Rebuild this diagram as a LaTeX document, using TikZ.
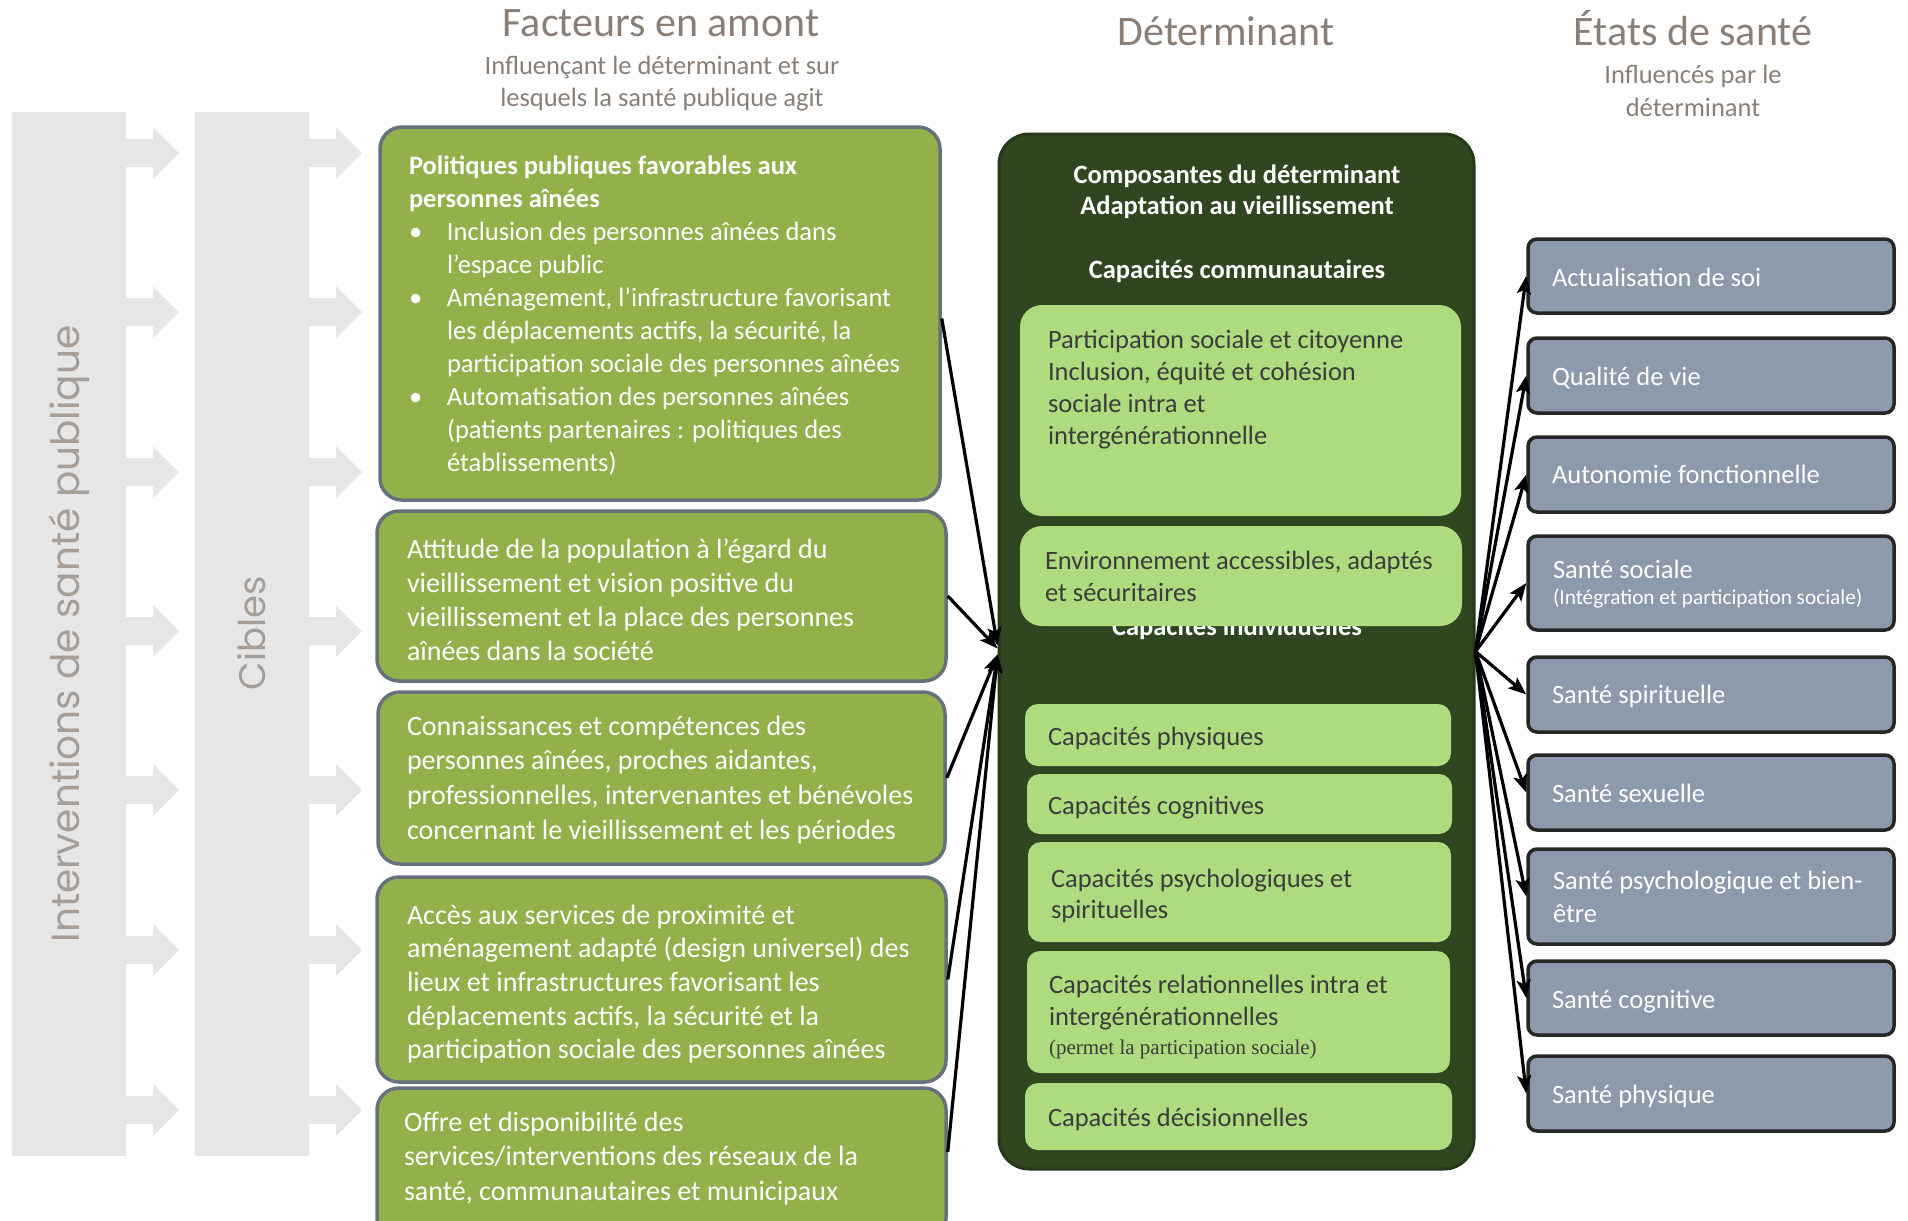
\documentclass[tikz,border=0pt]{standalone}
\usepackage{fontspec}
\setmainfont{Carlito}
\newfontfamily\colfont{Poppins}
\newfontfamily\serifsmall{Liberation Serif}
\usetikzlibrary{arrows.meta,fit}

\definecolor{factfill}{HTML}{93B14B}
\definecolor{factline}{HTML}{66717E}
\definecolor{detfill}{HTML}{2F4621}
\definecolor{detline}{HTML}{25391A}
\definecolor{compfill}{HTML}{ADDB7E}
\definecolor{statefill}{HTML}{8D9AAB}
\definecolor{stateline}{HTML}{262626}
\definecolor{headcol}{HTML}{8A7F77}
\definecolor{colfill}{HTML}{E6E6E6}
\definecolor{coltext}{HTML}{A69E97}
\definecolor{comptext}{HTML}{3C3C3C}

\newcommand\bodysize{\fontsize{26.5bp}{33bp}\selectfont}
\newcommand\factsize{\fontsize{28bp}{34bp}\selectfont}
\newcommand\titlesize{\fontsize{42bp}{50bp}\selectfont}
% left-aligned block of lines, baseline of the block = first line
\newcommand\textlines[2]{\vtop{\baselineskip=#1bp\relax\lineskiplimit=-1000bp%
  \def\\{\unskip\egroup\hbox\bgroup\ignorespaces}\hbox\bgroup\ignorespaces#2\unskip\egroup}}
% centred block of lines
\newcommand\ctextlines[2]{\vtop{\baselineskip=#1bp\relax\lineskiplimit=-1000bp%
  \def\\{\cr}\halign{\hfil\ignorespaces##\unskip\hfil\cr#2\cr}}}
\newcommand\bul{\makebox[38bp][l]{\textbullet}}
\newcommand\ind{\hspace*{38bp}}

\tikzset{
  txt/.style={inner sep=0pt, outer sep=0pt, anchor=base west, font=\bodysize},
  facttxt/.style={txt, text=white, font=\factsize},
  ctxt/.style={inner sep=0pt, outer sep=0pt, anchor=base, font=\bodysize},
  headtxt/.style={ctxt, text=headcol},
  factbox/.style={draw=factline, fill=factfill, line width=3.5bp, rounded corners=22bp, inner sep=0pt},
  detbox/.style={draw=detline, fill=detfill, line width=3bp, rounded corners=30bp, inner sep=0pt},
  compbig/.style={fill=compfill, rounded corners=22bp, inner sep=0pt},
  compsmall/.style={fill=compfill, rounded corners=13bp, inner sep=0pt},
  statebox/.style={draw=stateline, fill=statefill, line width=3.5bp, rounded corners=9bp, inner sep=0pt},
  colbar/.style={fill=colfill, inner sep=0pt},
  link/.style={line width=3.2bp, -{Stealth[length=18bp,width=14bp,inset=4bp]}},
}

\begin{document}
\begin{tikzpicture}[x=1bp,y=-1bp]
\useasboundingbox (0,0) rectangle (1908,1220);
\clip (0,0) rectangle (1908,1220);
\fill[white] (0,0) rectangle (1908,1220);

% ---- column headings
\node[headtxt, font=\titlesize] (h1) at (661,36) {Facteurs en amont};
\node[headtxt] (h1s) at (662,74) {\ctextlines{32}{Influençant le déterminant et sur\\lesquels la santé publique agit}};
\node[headtxt, font=\titlesize] (h2) at (1226,45) {Déterminant};
\node[headtxt, font=\titlesize] (h3) at (1693,45) {États de santé};
\node[headtxt] (h3s) at (1693,83) {\ctextlines{33}{Influencés par le\\déterminant}};

% ---- grey side bars with their arrows
\node[colbar, fit={(12,112) (126,1156)}] (interv) {};
\node[colbar, fit={(195,112) (309,1156)}] (cibles) {};
\foreach \ya in {153,312,472,631,790,950,1110} {
  \foreach \xa in {125,308} {
    \fill[colfill] (\xa,\ya-14) -- (\xa+28,\ya-14) -- (\xa+28,\ya-26) -- (\xa+54,\ya)
      -- (\xa+28,\ya+26) -- (\xa+28,\ya+14) -- (\xa,\ya+14) -- cycle;
  }
}
\node[rotate=90, inner sep=0pt, text=coltext] (intervlabel) at (69,634)
  {\resizebox{617bp}{!}{\colfont Interventions de santé publique}};
\node[rotate=90, inner sep=0pt, text=coltext] (cibleslabel) at (252,633)
  {\resizebox{114bp}{!}{\colfont Cibles}};

% ---- upstream factors
\node[factbox, fit={(380,127) (940,500)}] (f1) {};
\node[factbox, fit={(377,511) (946,681)}] (f2) {};
\node[factbox, fit={(378,692) (945,864)}] (f3) {};
\node[factbox, fit={(377,877) (946,1082)}] (f4) {};
\node[factbox, fit={(377,1088) (946,1240)}] (f5) {};

\node[txt, text=white] (f1t) at (409,174) {\textlines{33}{%
  \bfseries Politiques publiques favorables aux\\
  \bfseries personnes aînées\\
  \bul Inclusion des personnes aînées dans\\
  \ind l’espace public\\
  \bul Aménagement, l’infrastructure favorisant\\
  \ind les déplacements actifs, la sécurité, la\\
  \ind participation sociale des personnes aînées\\
  \bul Automatisation des personnes aînées\\
  \ind (patients partenaires~: politiques des\\
  \ind établissements)}};
\node[facttxt] (f2t) at (407,558) {\textlines{34.3}{%
  Attitude de la population à l’égard du\\
  vieillissement et vision positive du\\
  vieillissement et la place des personnes\\
  aînées dans la société}};
\node[facttxt] (f3t) at (407,735) {\textlines{34.7}{%
  Connaissances et compétences des\\
  personnes aînées, proches aidantes,\\
  professionnelles, intervenantes et bénévoles\\
  concernant le vieillissement et les périodes}};
\begin{scope}
  \clip (377,877) rectangle (946,1062);
  \node[facttxt] (f4t) at (407,924) {\textlines{33.7}{%
    Accès aux services de proximité et\\
    aménagement adapté (design universel) des\\
    lieux et infrastructures favorisant les\\
    déplacements actifs, la sécurité et la\\
    participation sociale des personnes aînées}};
\end{scope}
\node[facttxt] (f5t) at (404,1131) {\textlines{34.5}{%
  Offre et disponibilité des\\
  services/interventions des réseaux de la\\
  santé, communautaires et municipaux}};

% ---- determinant
\node[detbox, fit={(999,134) (1474,1169)}] (det) {};
\node[ctxt, text=white, font=\bodysize\bfseries] (dett) at (1237,183)
  {\ctextlines{31}{Composantes du déterminant\\Adaptation au vieillissement}};
\node[ctxt, text=white, font=\bodysize\bfseries] (commt) at (1237,278) {Capacités communautaires};
\node[ctxt, text=white, font=\bodysize\bfseries] (indivt) at (1237,635) {Capacités individuelles};

\node[compbig, fit={(1020,305) (1461,516)}] (c1) {};
\node[compbig, fit={(1020,526) (1462,626)}] (c2) {};
\node[compsmall, fit={(1025,704) (1451,766)}] (c3) {};
\node[compsmall, fit={(1027,774) (1452,834)}] (c4) {};
\node[compsmall, fit={(1028,842) (1451,942)}] (c5) {};
\node[compsmall, fit={(1027,951) (1450,1073)}] (c6) {};
\node[compsmall, fit={(1025,1083) (1452,1150)}] (c7) {};

\node[txt, text=comptext] (c1t) at (1048,348) {\textlines{32.3}{%
  Participation sociale et citoyenne\\
  Inclusion, équité et cohésion\\
  sociale intra et\\
  intergénérationnelle}};
\node[txt, text=comptext] (c2t) at (1045,569) {\textlines{32}{%
  Environnement accessibles, adaptés\\
  et sécuritaires}};
\node[txt, text=comptext] (c3t) at (1048,745) {Capacités physiques};
\node[txt, text=comptext] (c4t) at (1048,814) {Capacités cognitives};
\node[txt, text=comptext] (c5t) at (1051,887) {\textlines{31}{%
  Capacités psychologiques et\\
  spirituelles}};
\node[txt, text=comptext] (c6t) at (1049,993) {\textlines{32}{%
  Capacités relationnelles intra et\\
  intergénérationnelles}};
\node[txt, text=comptext, font=\serifsmall\fontsize{21bp}{24bp}\selectfont] (c6s) at (1049,1054)
  {(permet la participation sociale)};
\node[txt, text=comptext] (c7t) at (1048,1126) {Capacités décisionnelles};

% ---- health states
\node[statebox, fit={(1528,239) (1894,313)}] (s1) {};
\node[statebox, fit={(1528,338) (1894,413)}] (s2) {};
\node[statebox, fit={(1528,437) (1894,512)}] (s3) {};
\node[statebox, fit={(1528,536) (1894,630)}] (s4) {};
\node[statebox, fit={(1528,657) (1894,732)}] (s5) {};
\node[statebox, fit={(1528,755) (1894,830)}] (s6) {};
\node[statebox, fit={(1528,849) (1894,944)}] (s7) {};
\node[statebox, fit={(1528,961) (1894,1035)}] (s8) {};
\node[statebox, fit={(1528,1056) (1894,1131)}] (s9) {};

\node[txt, text=white] (s1t) at (1552,286) {Actualisation de soi};
\node[txt, text=white] (s2t) at (1552,385) {Qualité de vie};
\node[txt, text=white] (s3t) at (1552,483) {Autonomie fonctionnelle};
\node[txt, text=white] (s4t) at (1553,578) {Santé sociale};
\node[txt, text=white, font=\fontsize{21.3bp}{24bp}\selectfont] (s4s) at (1553,604)
  {(Intégration et participation sociale)};
\node[txt, text=white] (s5t) at (1552,703) {Santé spirituelle};
\node[txt, text=white] (s6t) at (1552,802) {Santé sexuelle};
\node[txt, text=white] (s7t) at (1553,889) {\textlines{33}{Santé psychologique et bien-\\être}};
\node[txt, text=white] (s8t) at (1552,1008) {Santé cognitive};
\node[txt, text=white] (s9t) at (1552,1103) {Santé physique};

% ---- influence arrows
\draw[link] ([yshift=-5bp]f1.east) -- ([yshift=6bp]det.west);
\draw[link] (f2.east) -- ([yshift=3bp]det.west);
\draw[link] (f3.east) -- ([yshift=-3bp]det.west);
\draw[link] (f4.east) -- ([yshift=-3bp]det.west);
\draw[link] ([yshift=12bp]f5.east) -- ([yshift=-3bp]det.west);
\foreach \s in {s1,s2,s3,s4,s5,s6,s7,s8,s9}
  \draw[link] (det.east) -- (\s.west);
\end{tikzpicture}
\end{document}
